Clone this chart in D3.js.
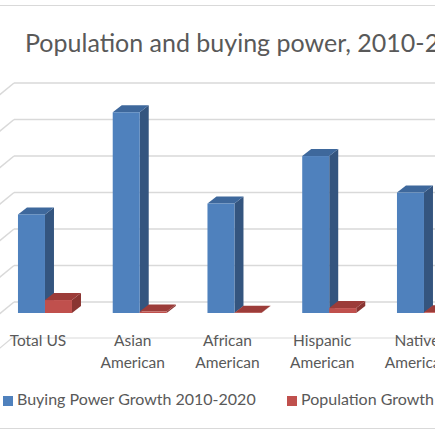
<!DOCTYPE html>
<html><head><meta charset="utf-8">
<script src="https://cdn.jsdelivr.net/npm/d3@7"></script>
<style>html,body{margin:0;padding:0;background:#fff;overflow:hidden}</style>
</head><body>
<svg id="c" width="435" height="435"></svg>
<script>
const title = "Population and buying power, 2010-2020";
const categories = ["Total US", "Asian American", "African American", "Hispanic American", "Native American"];
const categoryLines = [["Total US"], ["Asian", "American"], ["African", "American"], ["Hispanic", "American"], ["Native", "American"]];
const seriesNames = ["Buying Power Growth 2010-2020", "Population Growth 2010-2020"];
const buyingPower = [0.54, 1.10, 0.60, 0.86, 0.66];
const populationGrowth = [0.071, 0.008, 0.002, 0.027, 0.004];
const gridTicks = [0, 0.2, 0.4, 0.6, 0.8, 1.0, 1.2];

const svg = d3.select("#c");
const font = "Lato, 'Open Sans', sans-serif";
const textCol = "#595959";
const gridCol = "#d9d9d9";

// chart border (top & bottom visible)
svg.append("line").attr("x1",0).attr("x2",435).attr("y1",5.5).attr("y2",5.5).attr("stroke",gridCol).attr("stroke-width",1);
svg.append("line").attr("x1",0).attr("x2",435).attr("y1",428.5).attr("y2",428.5).attr("stroke",gridCol).attr("stroke-width",1);

svg.append("text").attr("x",25).attr("y",52).attr("font-family",font).attr("font-size",25).attr("fill",textCol).text(title);

const y = d3.scaleLinear().domain([0,1.2]).range([302,83]);
const wallX = 14, sideDx = -14, sideDy = 11.5;

// back wall gridlines + side wall diagonals
const g = svg.append("g");
gridTicks.forEach(t => {
  const yy = y(t);
  g.append("line").attr("x1",wallX).attr("x2",440).attr("y1",yy).attr("y2",yy).attr("stroke",gridCol).attr("stroke-width",1.5);
  g.append("line").attr("x1",wallX).attr("x2",wallX+sideDx*2).attr("y1",yy).attr("y2",yy+sideDy*2).attr("stroke",gridCol).attr("stroke-width",1.5);
});
// floor front edge
g.append("line").attr("x1",12).attr("x2",440).attr("y1",338).attr("y2",338).attr("stroke",gridCol).attr("stroke-width",1.2);
g.append("line").attr("x1",12).attr("x2",-12).attr("y1",338).attr("y2",358).attr("stroke",gridCol).attr("stroke-width",1.2);

const step = 94.75;
const x0 = d3.scaleBand().domain(categories).range([-2.4, -2.4 + step*categories.length]).paddingInner(0.43).paddingOuter(0.215);
const x1 = d3.scaleBand().domain(seriesNames).range([0, x0.bandwidth()]);

const colors = [
  {front:"#4f81bd", side:"#34557f", top:"#3e689c"},
  {front:"#c0504d", side:"#8a3532", top:"#9c3c39"}
];
const bdx = 9, bdy = -7, frontOffset = 11; // bar depth offset & front plane offset

const bars = svg.append("g");
categories.forEach((cat, i) => {
  [buyingPower[i], populationGrowth[i]].forEach((v, s) => {
    const bx = x0(cat) + x1(seriesNames[s]);
    const w = x1.bandwidth();
    const yb = y(0) + frontOffset;
    const yt = y(v) + frontOffset;
    const c = colors[s];
    const gb = bars.append("g");
    gb.append("polygon").attr("points", [[bx+w,yt],[bx+w+bdx,yt+bdy],[bx+w+bdx,yb+bdy],[bx+w,yb]].map(p=>p.join(",")).join(" ")).attr("fill",c.side);
    gb.append("polygon").attr("points", [[bx,yt],[bx+bdx,yt+bdy],[bx+w+bdx,yt+bdy],[bx+w,yt]].map(p=>p.join(",")).join(" ")).attr("fill",c.top);
    gb.append("rect").attr("x",bx).attr("y",yt).attr("width",w).attr("height",Math.max(0,yb-yt)).attr("fill",c.front);
  });
});

// category labels
categories.forEach((cat, i) => {
  const cx = x0(cat) + x0.bandwidth()/2 - 7;
  const t = svg.append("text").attr("text-anchor","middle").attr("font-family",font).attr("font-size",15.5).attr("fill",textCol);
  categoryLines[i].forEach((ln, k) => {
    t.append("tspan").attr("x",cx).attr("y",346 + k*22).text(ln);
  });
});

// legend
const legendX = [3, 287];
seriesNames.forEach((n, s) => {
  svg.append("rect").attr("x",legendX[s]).attr("y",396).attr("width",10).attr("height",10).attr("fill",colors[s].front);
  svg.append("text").attr("x",legendX[s]+14).attr("y",405).attr("font-family",font).attr("font-size",16).attr("fill",textCol).text(n);
});
</script>
</body></html>
